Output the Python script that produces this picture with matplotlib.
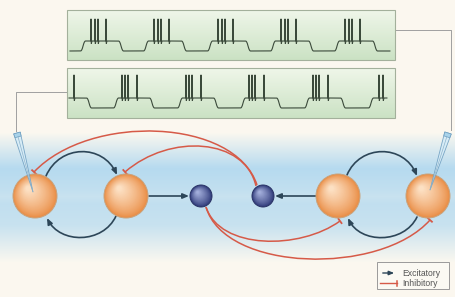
import numpy as np
import matplotlib.pyplot as plt
from matplotlib.patches import Circle, Rectangle, Polygon, FancyArrowPatch, PathPatch
from matplotlib.path import Path
from matplotlib.colors import to_rgb

# recorded traces (pixel columns of burst on/off and spikes)
t1_span = (70, 390)
t1_on = [83, 146, 210, 273, 337]
t1_off = [121, 184, 248, 311, 375]
t1_spikes = [91, 95, 98, 106, 154, 158, 161, 169, 218, 222, 225, 233,
             281, 285, 288, 296, 345, 349, 352, 360]

t2_span = (69, 387)
t2_on = [69, 116, 180, 243, 307, 371]
t2_off = [89, 152, 216, 279, 343, 387]
t2_spikes = [74, 122, 125, 128, 137, 186, 189, 192, 201, 249, 252, 255, 264,
             313, 316, 319, 328, 379, 383]

# network: cells on one row
cell_x = [35, 126, 201, 263, 338, 428]
cell_r = [22, 22, 11, 11, 22, 22]
cell_kind = ['exc', 'exc', 'inh', 'inh', 'exc', 'exc']
row_y = 196

legend_labels = ['Excitatory', 'Inhibitory']

EXC = '#2d4658'
INH = '#d65a48'


def trace_xy(span, on, off, spikes, low, high, tip):
    x = np.arange(span[0], span[1], 0.1)
    y = np.full_like(x, float(low))
    for a, b in zip(on, off):
        y[(x >= a) & (x <= b)] = high
    k = np.ones(25) / 25
    for _ in range(2):
        y = np.convolve(np.pad(y, 12, mode='edge'), k, mode='valid')
    xs, ys = [], []
    prev = span[0] - 1
    for s in sorted(spikes):
        m = (x >= prev) & (x < s - 0.2)
        xs.extend(x[m]); ys.extend(y[m])
        b = np.interp(s, x, y)
        xs += [s - 0.2, s, s + 0.3]
        ys += [b, tip, b + 2.5]
        prev = s + 0.8
    m = x >= prev
    xs.extend(x[m]); ys.extend(y[m])
    return xs, ys


def sphere(ax, cx, cy, r, dark, light, edge):
    dark, light = np.array(to_rgb(dark)), np.array(to_rgb(light))
    ax.add_patch(Circle((cx, cy), r, fc=dark, ec=edge, lw=0.7, zorder=4))
    n = 30
    for i in range(1, n):
        t = i / n
        c = dark * (1 - t ** 0.8) + light * t ** 0.8
        ax.add_patch(Circle((cx - 0.32 * r * t, cy - 0.36 * r * t), r * (1 - 0.9 * t) - 0.5,
                            fc=c, ec='none', zorder=4))


def bezier(p):
    return Path(p, [Path.MOVETO, Path.CURVE4, Path.CURVE4, Path.CURVE4])


def excite(ax, p):
    ax.add_patch(FancyArrowPatch(path=bezier(p), arrowstyle='-|>,head_length=3.6,head_width=1.5',
                                 mutation_scale=1, color=EXC, lw=1.2, zorder=3))


def inhibit(ax, p, bar=3.5):
    ax.add_patch(PathPatch(bezier(p), fill=False, ec=INH, lw=1.1, zorder=3))
    d = np.array(p[3]) - np.array(p[2])
    d = d / np.hypot(*d)
    n = np.array([-d[1], d[0]])
    e = np.array(p[3])
    ax.plot([e[0] - n[0] * bar, e[0] + n[0] * bar], [e[1] - n[1] * bar, e[1] + n[1] * bar],
            color=INH, lw=1.3, solid_capstyle='butt', zorder=3)


def pipette(ax, tip, top):
    tip, top = np.array(tip, float), np.array(top, float)
    d = top - tip
    d = d / np.hypot(*d)
    n = np.array([-d[1], d[0]])
    ax.add_patch(Polygon([tip, top + n * 3.4, top - n * 3.4], closed=True,
                         fc='#d6ecf7', ec='#6e9ec0', lw=0.6, alpha=0.9, zorder=6))
    ax.plot([tip[0], top[0]], [tip[1], top[1]], color='#8fb4cc', lw=0.5, zorder=6)
    band = top - d * 4
    ax.add_patch(Polygon([band + n * 3.1, top + n * 3.4, top - n * 3.4, band - n * 3.1],
                         closed=True, fc='#a9d3ea', ec='#6e9ec0', lw=0.5, zorder=6))


fig = plt.figure(figsize=(4.55, 2.97), dpi=100)
ax = fig.add_axes([0, 0, 1, 1])
ax.set_xlim(0, 455)
ax.set_ylim(297, 0)
ax.axis('off')

# background: cream with a blue band behind the network
yy = np.arange(297)
w = np.interp(yy, [0, 132, 168, 188, 196, 204, 225, 262, 297],
              [0, 0, 0.95, 0.8, 0.7, 0.8, 0.7, 0, 0])
cream = np.array([0.985, 0.972, 0.94])
blue = np.array([0.70, 0.85, 0.94])
bg = cream[None, :] * (1 - w[:, None]) + blue[None, :] * w[:, None]
ax.imshow(bg[:, None, :], extent=(0, 455, 297, 0), aspect='auto', zorder=0)

# trace panels
g = np.linspace(0, 1, 50)[:, None]
top_c, bot_c = np.array(to_rgb('#eff6e9')), np.array(to_rgb('#cbe2c4'))
pg = top_c * (1 - g) + bot_c * g
for y0, y1 in [(10, 60), (68, 118)]:
    ax.imshow(pg[:, None, :], extent=(67, 395, y1, y0), aspect='auto', zorder=1)
    ax.add_patch(Rectangle((67, y0), 328, y1 - y0, fill=False, ec='#a3b09b', lw=0.8, zorder=2))

x1, y1 = trace_xy(t1_span, t1_on, t1_off, t1_spikes, 51, 41, 19)
ax.plot(x1, y1, color='#3b4a3b', lw=0.8, zorder=2)
x2, y2 = trace_xy(t2_span, t2_on, t2_off, t2_spikes, 108, 98, 75)
ax.plot(x2, y2, color='#3b4a3b', lw=0.8, zorder=2)

# recording leads
ax.plot([16, 16, 67], [131, 92, 92], color='#a0a0a0', lw=0.7, zorder=1)
ax.plot([395, 451, 451], [30, 30, 130], color='#a0a0a0', lw=0.7, zorder=1)

# cells
for cx, r, k in zip(cell_x, cell_r, cell_kind):
    if k == 'exc':
        sphere(ax, cx, row_y, r, '#ea8f48', '#fde2c6', '#c8a27c')
    else:
        sphere(ax, cx, row_y, r, '#323d7c', '#a6b1de', '#2a3366')

# excitatory connections
excite(ax, [(46, 176), (60, 144), (103, 144), (117, 175)])
excite(ax, [(116, 216), (103, 244), (60, 244), (47, 218)])
excite(ax, [(347, 175), (360, 144), (404, 144), (417, 176)])
excite(ax, [(417, 217), (404, 244), (360, 244), (348, 218)])
excite(ax, [(149, 196), (162, 196), (176, 196), (189, 196)])
excite(ax, [(316, 196), (302, 196), (288, 196), (275, 196)])

# inhibitory connections
inhibit(ax, [(257, 185), (235, 118), (90, 113), (34, 172)])
inhibit(ax, [(256, 186), (245, 138), (170, 133), (125, 172)])
inhibit(ax, [(206, 207), (220, 250), (300, 250), (340, 221)])
inhibit(ax, [(206, 207), (225, 272), (380, 276), (430, 220)])

# electrodes
pipette(ax, (33, 192), (17, 133))
pipette(ax, (430, 190), (448, 133))

# legend
ax.add_patch(Rectangle((377, 262), 72, 27, fc='#fbf9f3', ec='#9a9a9a', lw=0.7, zorder=5))
ax.add_patch(FancyArrowPatch((380, 273), (397, 273), arrowstyle='-|>,head_length=3,head_width=1.2',
                             mutation_scale=1, color=EXC, lw=1.0, zorder=6))
ax.plot([380, 397], [283, 283], color=INH, lw=1.0, zorder=6)
ax.plot([397, 397], [280.5, 285.5], color=INH, lw=1.1, zorder=6)
for y, lab in zip([273, 283], legend_labels):
    ax.text(402, y, lab, fontsize=6.2, color='#555555', va='center', ha='left',
            family='Liberation Sans', zorder=6)

fig.savefig('out.png', dpi=100)
